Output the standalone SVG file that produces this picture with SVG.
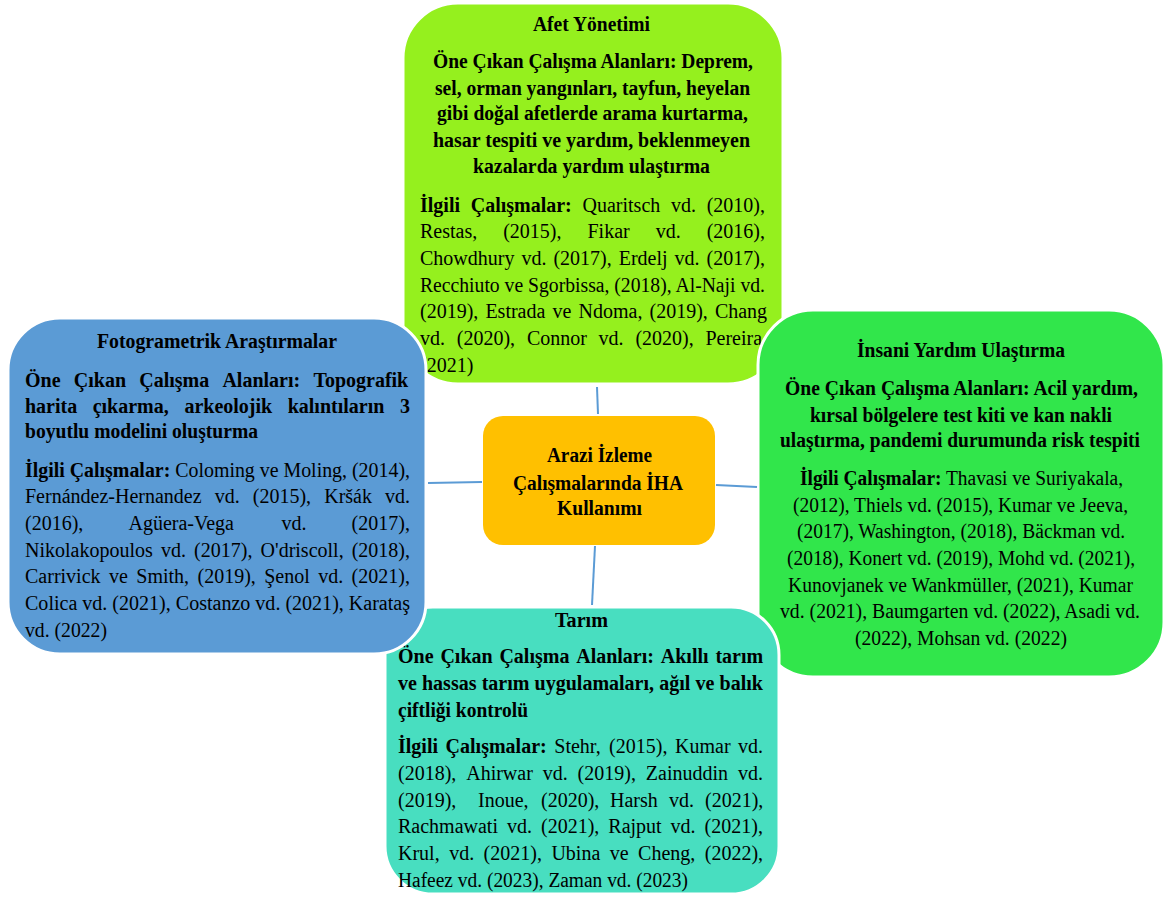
<svg xmlns="http://www.w3.org/2000/svg" width="1176" height="897" viewBox="0 0 1176 897">
<style>
text{font-family:"Liberation Serif","Times New Roman",serif;font-size:20px;fill:#000}
.b{font-weight:bold}
.box{stroke:#fff;stroke-width:3}
.con{stroke:#5B9BD5;stroke-width:2;fill:none}
</style>
<rect width="1176" height="897" fill="#fff"/>
<g id="node-afet">
<rect class="box" x="403" y="3" width="380" height="381" rx="55" fill="#95F01E"/>
<text class="b" x="533" y="31" textLength="117" lengthAdjust="spacingAndGlyphs">Afet Yönetimi</text>
<text class="b" x="433" y="68" textLength="320" lengthAdjust="spacingAndGlyphs">Öne Çıkan Çalışma Alanları: Deprem,</text>
<text class="b" x="435" y="95" textLength="315" lengthAdjust="spacingAndGlyphs">sel, orman yangınları, tayfun, heyelan</text>
<text class="b" x="437" y="120" textLength="311" lengthAdjust="spacingAndGlyphs">gibi doğal afetlerde arama kurtarma,</text>
<text class="b" x="433" y="147" textLength="317" lengthAdjust="spacingAndGlyphs">hasar tespiti ve yardım,  beklenmeyen</text>
<text class="b" x="473" y="173" textLength="237" lengthAdjust="spacingAndGlyphs">kazalarda yardım ulaştırma</text>
<text y="212"><tspan class="b" x="420">İlgili</tspan><tspan class="b" x="470.7">Çalışmalar:</tspan><tspan x="582.5">Quaritsch</tspan><tspan x="671">vd.</tspan><tspan x="706.7">(2010),</tspan></text>
<text y="238"><tspan x="420">Restas,</tspan><tspan x="503.2">(2015),</tspan><tspan x="587.5">Fikar</tspan><tspan x="655.7">vd.</tspan><tspan x="706.7">(2016),</tspan></text>
<text y="265"><tspan x="420">Chowdhury</tspan><tspan x="521.4">vd.</tspan><tspan x="553.4">(2017),</tspan><tspan x="618.7">Erdelj</tspan><tspan x="674.6">vd.</tspan><tspan x="706.6">(2017),</tspan></text>
<text x="420" y="292" textLength="345" lengthAdjust="spacingAndGlyphs">Recchiuto ve Sgorbissa, (2018), Al-Naji vd.</text>
<text y="318"><tspan x="420">(2019),</tspan><tspan x="485.4">Estrada</tspan><tspan x="552.5">ve</tspan><tspan x="578.5">Ndoma,</tspan><tspan x="649.5">(2019),</tspan><tspan x="714.9">Chang</tspan></text>
<text y="345"><tspan x="420">vd.</tspan><tspan x="456.8">(2020),</tspan><tspan x="526.9">Connor</tspan><tspan x="598.6">vd.</tspan><tspan x="635.4">(2020),</tspan><tspan x="705.4">Pereira</tspan></text>
<text x="420" y="372">(2021)</text>
</g>
<g id="node-insani">
<rect class="box" x="758" y="310" width="406" height="367" rx="55" fill="#31E64B"/>
<text class="b" x="857" y="357" textLength="208" lengthAdjust="spacingAndGlyphs">İnsani Yardım Ulaştırma</text>
<text class="b" x="785" y="395" textLength="353" lengthAdjust="spacingAndGlyphs">Öne Çıkan Çalışma Alanları: Acil yardım,</text>
<text class="b" x="810" y="422" textLength="302" lengthAdjust="spacingAndGlyphs">kırsal bölgelere test kiti ve kan nakli</text>
<text class="b" x="780" y="447" textLength="360" lengthAdjust="spacingAndGlyphs">ulaştırma, pandemi durumunda risk tespiti</text>
<text x="800" y="485" textLength="323" lengthAdjust="spacingAndGlyphs"><tspan class="b">İlgili Çalışmalar:</tspan> Thavasi ve Suriyakala,</text>
<text x="793" y="512" textLength="335" lengthAdjust="spacingAndGlyphs">(2012), Thiels vd. (2015), Kumar  ve Jeeva,</text>
<text x="797" y="538" textLength="328" lengthAdjust="spacingAndGlyphs">(2017), Washington, (2018), Bäckman vd.</text>
<text x="787" y="565" textLength="348" lengthAdjust="spacingAndGlyphs">(2018), Konert vd. (2019), Mohd vd. (2021),</text>
<text x="788" y="592" textLength="345" lengthAdjust="spacingAndGlyphs">Kunovjanek ve Wankmüller, (2021), Kumar</text>
<text x="780" y="618" textLength="360" lengthAdjust="spacingAndGlyphs">vd. (2021),  Baumgarten vd. (2022), Asadi vd.</text>
<text x="855" y="645" textLength="212" lengthAdjust="spacingAndGlyphs">(2022), Mohsan vd. (2022)</text>
</g>
<g id="node-tarim">
<rect class="box" x="385" y="607" width="394" height="287" rx="48" fill="#48DEC0"/>
<text class="b" x="555" y="627" textLength="53" lengthAdjust="spacingAndGlyphs">Tarım</text>
<text class="b" y="663"><tspan x="398">Öne</tspan><tspan x="440.4">Çıkan</tspan><tspan x="499.4">Çalışma</tspan><tspan x="576.2">Alanları:</tspan><tspan x="660.8">Akıllı</tspan><tspan x="715.4">tarım</tspan></text>
<text class="b" y="690"><tspan x="398">ve</tspan><tspan x="422">hassas</tspan><tspan x="481.7">tarım</tspan><tspan x="534.6">uygulamaları,</tspan><tspan x="659.3">ağıl</tspan><tspan x="695.5">ve</tspan><tspan x="719.6">balık</tspan></text>
<text class="b" x="398" y="717" textLength="130" lengthAdjust="spacingAndGlyphs">çiftliği kontrolü</text>
<text y="753"><tspan class="b" x="398">İlgili</tspan><tspan class="b" x="445.6">Çalışmalar:</tspan><tspan x="554.3">Stehr,</tspan><tspan x="609.1">(2015),</tspan><tspan x="675">Kumar</tspan><tspan x="738.1">vd.</tspan></text>
<text y="780"><tspan x="398">(2018),</tspan><tspan x="466.2">Ahirwar</tspan><tspan x="542.7">vd.</tspan><tspan x="577.6">(2019),</tspan><tspan x="645.8">Zainuddin</tspan><tspan x="737.9">vd.</tspan></text>
<text y="807"><tspan x="398">(2019),</tspan><tspan x="478">Inoue,</tspan><tspan x="541">(2020),</tspan><tspan x="610">Harsh</tspan><tspan x="669">vd.</tspan><tspan x="705">(2021),</tspan></text>
<text y="833"><tspan x="398">Rachmawati</tspan><tspan x="507">vd.</tspan><tspan x="541">(2021),</tspan><tspan x="608.3">Rajput</tspan><tspan x="670.6">vd.</tspan><tspan x="704.6">(2021),</tspan></text>
<text y="860"><tspan x="398">Krul,</tspan><tspan x="449.2">vd.</tspan><tspan x="483.6">(2021),</tspan><tspan x="551.4">Ubina</tspan><tspan x="609.8">ve</tspan><tspan x="638.1">Cheng,</tspan><tspan x="704.8">(2022),</tspan></text>
<text x="398" y="887" textLength="290" lengthAdjust="spacingAndGlyphs">Hafeez vd. (2023), Zaman vd. (2023)</text>
</g>
<g id="node-fotogrametrik">
<rect class="box" x="8" y="318" width="418" height="336" rx="52" fill="#5B9BD5"/>
<text class="b" x="97" y="348" textLength="240" lengthAdjust="spacingAndGlyphs">Fotogrametrik Araştırmalar</text>
<text class="b" y="387"><tspan x="25">Öne</tspan><tspan x="73.8">Çıkan</tspan><tspan x="139.2">Çalışma</tspan><tspan x="222.4">Alanları:</tspan><tspan x="313.4">Topografik</tspan></text>
<text class="b" y="413"><tspan x="25">harita</tspan><tspan x="92.7">çıkarma,</tspan><tspan x="184.4">arkeolojik</tspan><tspan x="287.7">kalıntıların</tspan><tspan x="400">3</tspan></text>
<text class="b" x="25" y="438" textLength="233" lengthAdjust="spacingAndGlyphs">boyutlu modelini oluşturma</text>
<text x="25" y="477" textLength="385" lengthAdjust="spacingAndGlyphs"><tspan class="b">İlgili Çalışmalar:</tspan> Coloming ve Moling, (2014),</text>
<text y="503"><tspan x="25">Fernández-Hernandez</tspan><tspan x="214.7">vd.</tspan><tspan x="252.8">(2015),</tspan><tspan x="324.2">Kršák</tspan><tspan x="385.1">vd.</tspan></text>
<text y="530"><tspan x="25">(2016),</tspan><tspan x="128.5">Agüera-Vega</tspan><tspan x="281.4">vd.</tspan><tspan x="351.6">(2017),</tspan></text>
<text y="557"><tspan x="25">Nikolakopoulos</tspan><tspan x="161">vd.</tspan><tspan x="194.1">(2017),</tspan><tspan x="260.6">O'driscoll,</tspan><tspan x="351.7">(2018),</tspan></text>
<text y="583"><tspan x="25">Carrivick</tspan><tspan x="108.9">ve</tspan><tspan x="136.3">Smith,</tspan><tspan x="197.5">(2019),</tspan><tspan x="264.2">Şenol</tspan><tspan x="318.2">vd.</tspan><tspan x="351.6">(2021),</tspan></text>
<text x="25" y="610" textLength="385" lengthAdjust="spacingAndGlyphs">Colica vd. (2021), Costanzo vd. (2021), Karataş</text>
<text x="25" y="637" textLength="82" lengthAdjust="spacingAndGlyphs">vd. (2022)</text>
</g>
<g id="node-center">
<rect x="483" y="416" width="232" height="129" rx="20" fill="#FFC000"/>
<text class="b" x="547" y="462" textLength="105" lengthAdjust="spacingAndGlyphs">Arazi İzleme</text>
<text class="b" x="513" y="490" textLength="170" lengthAdjust="spacingAndGlyphs">Çalışmalarında İHA</text>
<text class="b" x="557" y="515" textLength="85" lengthAdjust="spacingAndGlyphs">Kullanımı</text>
</g>
<g id="connectors">
<line class="con" x1="597" y1="387" x2="598" y2="414"/>
<line class="con" x1="428" y1="483" x2="482" y2="482"/>
<line class="con" x1="716" y1="485" x2="757" y2="487"/>
<line class="con" x1="595" y1="546" x2="592" y2="605"/>
</g>
</svg>
